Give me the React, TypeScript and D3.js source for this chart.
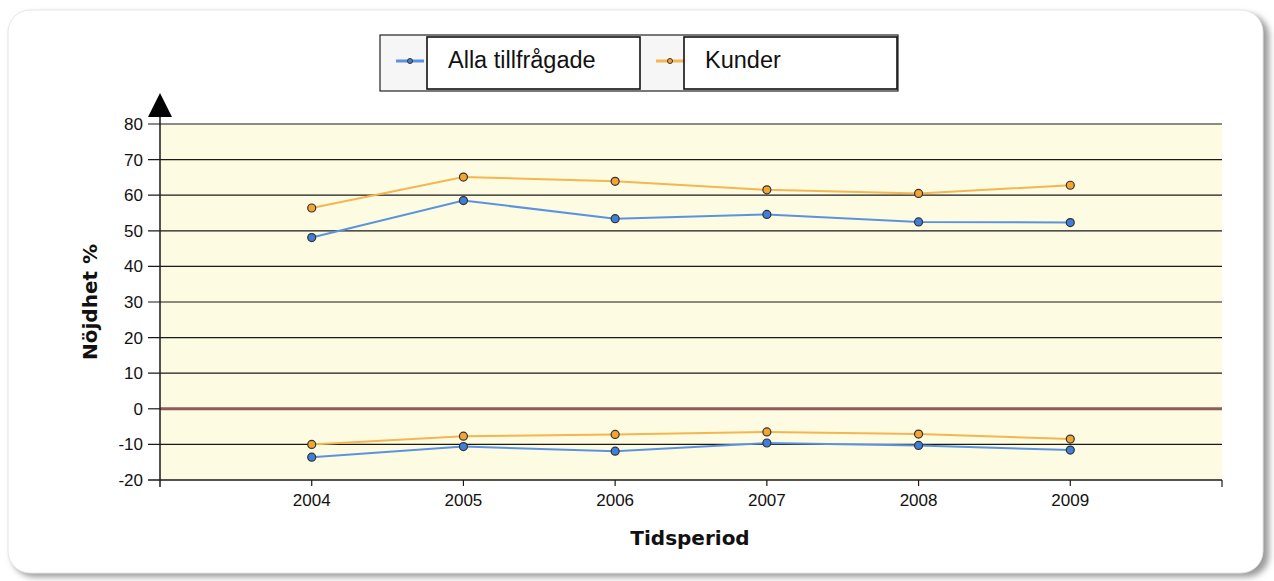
import React from "react";
import * as d3 from "d3";

const years = [2004, 2005, 2006, 2007, 2008, 2009];
const allaPos = [48.1, 58.5, 53.4, 54.6, 52.5, 52.3];
const kunderPos = [56.4, 65.1, 63.9, 61.5, 60.5, 62.8];
const allaNeg = [-13.6, -10.6, -11.9, -9.6, -10.3, -11.6];
const kunderNeg = [-10.0, -7.7, -7.2, -6.5, -7.1, -8.5];
const yTicks = [80, 70, 60, 50, 40, 30, 20, 10, 0, -10, -20];
const seriesNames = ["Alla tillfrågade", "Kunder"];

const W = 1274;
const H = 581;
const left = 160;
const right = 1222;
const top = 124;
const bottom = 480;

const BLUE_LINE = "#5b93e0";
const BLUE_DOT = "#3f7fd9";
const ORANGE_LINE = "#f4b650";
const ORANGE_DOT = "#f2a531";

export default function App() {
  const x = d3.scaleLinear().domain([2003, 2010]).range([left, right]);
  const y = d3.scaleLinear().domain([-20, 80]).range([bottom, top]);
  const line = d3
    .line<[number, number]>()
    .x((d) => x(d[0]))
    .y((d) => y(d[1]));

  const series = [
    { vals: allaPos, line: BLUE_LINE, dot: BLUE_DOT },
    { vals: allaNeg, line: BLUE_LINE, dot: BLUE_DOT },
    { vals: kunderPos, line: ORANGE_LINE, dot: ORANGE_DOT },
    { vals: kunderNeg, line: ORANGE_LINE, dot: ORANGE_DOT },
  ];

  return (
    <svg
      width={W}
      height={H}
      style={{ position: "absolute", left: 0, top: 0, display: "block" }}
      fontFamily="Arial, 'Liberation Sans', sans-serif"
    >
      <defs>
        <filter id="sh" x="-5%" y="-5%" width="110%" height="115%">
          <feGaussianBlur stdDeviation="3" />
        </filter>
      </defs>
      <rect x={0} y={0} width={W} height={H} fill="#ffffff" />
      {/* frame shadow */}
      <rect x={12} y={14} width={1257} height={563} rx={22} fill="#9a9a9a" filter="url(#sh)" />
      <rect x={8} y={10} width={1255} height={563} rx={22} fill="#ffffff" stroke="#e6e6e6" strokeWidth={1} />

      {/* plot background */}
      <rect x={left} y={top} width={right - left} height={bottom - top} fill="#fdfbe1" />

      {/* gridlines */}
      {yTicks.map((t) =>
        t === 0 || t === -20 ? null : (
          <line key={t} x1={left - 12} x2={right} y1={y(t)} y2={y(t)} stroke="#1a1a1a" strokeWidth={1.2} />
        )
      )}
      <line x1={left - 12} x2={left} y1={y(0)} y2={y(0)} stroke="#1a1a1a" strokeWidth={1.2} />
      <line x1={left} x2={right} y1={y(0)} y2={y(0)} stroke="#8e5a5a" strokeWidth={3} />

      {/* axes */}
      <line x1={left - 12} x2={right} y1={bottom} y2={bottom} stroke="#1a1a1a" strokeWidth={1.3} />
      <line x1={left} x2={left} y1={115} y2={bottom + 7} stroke="#1a1a1a" strokeWidth={1.5} />
      <line x1={right} x2={right} y1={bottom} y2={bottom + 7} stroke="#1a1a1a" strokeWidth={1.2} />
      <path d={`M${left - 12},${117} L${left},${93} L${left + 12},${117} Z`} fill="#000" />

      {years.map((yr) => (
        <g key={yr}>
          <line x1={x(yr)} x2={x(yr)} y1={bottom} y2={bottom + 6} stroke="#1a1a1a" strokeWidth={1.2} />
          <text x={x(yr)} y={bottom + 26} textAnchor="middle" fontSize={17} fill="#111">
            {yr}
          </text>
        </g>
      ))}
      {yTicks.map((t) => (
        <text key={t} x={143} y={y(t) + 6} textAnchor="end" fontSize={17} fill="#111">
          {t}
        </text>
      ))}

      {/* series */}
      {series.map((s, i) => {
        const pts = years.map((yr, j) => [yr, s.vals[j]] as [number, number]);
        return (
          <g key={i}>
            <path d={line(pts) || ""} fill="none" stroke={s.line} strokeWidth={2} />
            {pts.map((p, j) => (
              <circle key={j} cx={x(p[0])} cy={y(p[1])} r={4} fill={s.dot} stroke="#333" strokeWidth={1.2} />
            ))}
          </g>
        );
      })}

      {/* axis titles */}
      <text
        transform={`translate(97,${302}) rotate(-90)`}
        textAnchor="middle"
        fontSize={20}
        fontWeight="bold"
        fontFamily="'DejaVu Sans', Verdana, sans-serif"
        fill="#111"
      >
        Nöjdhet %
      </text>
      <text
        x={690}
        y={545}
        textAnchor="middle"
        fontSize={20}
        fontWeight="bold"
        fontFamily="'DejaVu Sans', Verdana, sans-serif"
        fill="#111"
      >
        Tidsperiod
      </text>

      {/* legend */}
      <g>
        <rect x={380} y={35} width={518} height={56} fill="#f6f6f6" stroke="#222" strokeWidth={1.2} />
        {[0, 1].map((i) => {
          const bx = i === 0 ? 380 : 640;
          const tx = i === 0 ? 427 : 684;
          const tw = 213;
          const lc = i === 0 ? BLUE_LINE : ORANGE_LINE;
          const dc = i === 0 ? BLUE_DOT : ORANGE_DOT;
          return (
            <g key={i}>
              <line x1={bx + 16} x2={bx + 44} y1={61} y2={61} stroke={lc} strokeWidth={3} />
              <circle cx={bx + 30} cy={61} r={2.5} fill={dc} stroke="#333" strokeWidth={1} />
              <rect x={tx} y={37} width={tw} height={52} fill="#ffffff" stroke="#111" strokeWidth={1.6} />
              <text x={tx + 21} y={68} fontSize={23.5} fill="#111">
                {seriesNames[i]}
              </text>
            </g>
          );
        })}
      </g>
    </svg>
  );
}
